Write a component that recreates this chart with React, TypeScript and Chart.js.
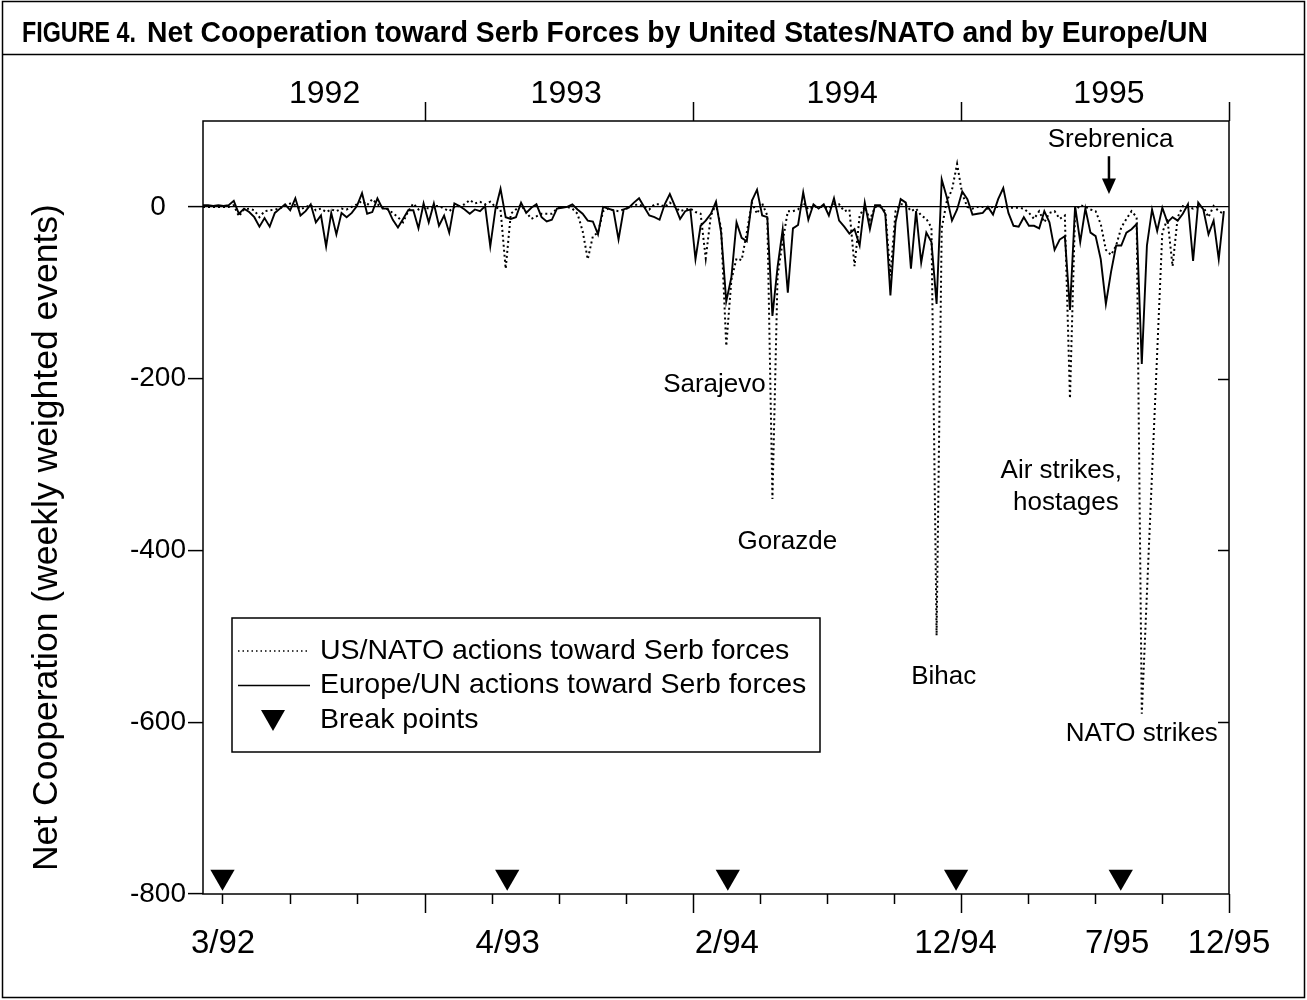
import React, { useEffect, useRef } from "react";
import { Chart, registerables } from "chart.js";

Chart.register(...registerables);

const FONT = "'Liberation Sans', Arial, Helvetica, sans-serif";

// Weekly values, week 0 = first week of March 1992
const europeUN = [
  2, 2, 1, 2, 1, 2, 7, -8, -2, -6,
  -12, -23, -13, -23, -7, -2, 3, -4, 10, -10,
  -5, 3, -18, -10, -46, -7, -32, -7, -12, -7,
  1, 16, -8, -6, 10, -2, -2, -15, -24, -14,
  -4, -4, -25, 4, -18, 4, -22, -10, -30, 4,
  1, -3, -8, -3, -5, 1, -46, -3, 21, -12,
  -14, -12, 5, -7, -1, 3, -12, -17, -15, -2,
  -1, 0, 3, -3, -8, -16, -17, -32, 0, -2,
  -4, -38, -3, -1, 5, 10, 0, -10, -12, -15,
  3, 15, 1, -14, -5, -3, -61, -22, -16, -8,
  6, -30, -110, -82, -18, -36, -40, 7, 20, -10,
  -12, -127, -70, -26, -100, -25, -21, 17, -15, 3,
  -2, 3, -10, 10, -16, -23, -31, -26, -45, 5,
  -26, 2, 2, -8, -103, -18, 9, 5, -72, -5,
  -65, -30, -41, -113, 32, 11, -16, -3, 18, 9,
  -9, -8, -7, 0, -9, 9, 22, -7, -22, -23,
  -12, -22, -22, -25, -5, -18, -50, -38, -34, -120,
  1, -41, -2, -30, -34, -61, -113, -76, -45, -45,
  -30, -26, -20, -183, -45, -3, -28, -1, -18, -12,
  -16, -8, 3, -63, 5, -3, -32, -16, -61, -5,
];

const usNATO: (number | null)[] = [
  0, 0, 0, 0, 0, 0, 2, -11, -3, -2,
  -4, -12, -5, -4, -3, -2, 2, 4, 2, -3,
  0, 2, -4, -2, -6, -3, -5, -2, -3, 0,
  3, 7, 2, 9, 3, 0, -3, -7, -12, -18,
  -5, 4, -3, 0, -2, 1, 1, -2, -5, 0,
  1, 3, 8, 4, 6, 3, 6, 0, -3, -72,
  -8, -3, 2, -6, -14, -11, -8, -8, -8, -2,
  0, 0, -2, -8, -28, -61, -34, -30, -5, -2,
  -4, -5, -3, -1, 2, 3, 0, -3, 3, 3,
  0, 5, 0, -5, -3, -2, -6, -8, -60, -10,
  3, -25, -162, -85, -60, -62, -30, 5, -8, 4,
  -10, -340, -80, -40, -5, -5, -3, 5, -3, 0,
  0, 0, -2, 3, 3, -5, -3, -69, -10, 0,
  -15, 0, 0, -5, -80, -5, 3, 3, -5, -2,
  -10, -14, -24, -499, -25, 7, 20, 50, 15, 0,
  -2, 0, 0, -2, 0, 0, 0, -1, -1, -1,
  -2, -7, -14, -5, -18, -7, -5, -14, -10, -223,
  -5, 2, 0, -3, -5, -20, -50, -56, -45, -24,
  -14, -5, -12, -590, null, null, null, -30, -14, -69,
  -12, 1, 0, -2, 0, 0, -12, 1, -5, -8,
];

const breakPointWeeks = [3.8, 59.3, 102.3, 146.8, 178.9];
const breakPointLevel = -780;

const bottomLabelWeeks = [3.9, 59.4, 102.1, 146.7, 178.2, 200];
const bottomLabels = ["3/92", "4/93", "2/94", "12/94", "7/95", "12/95"];

const yearLabelWeeks = [23.7, 70.8, 124.6, 176.6];
const yearLabels = ["1992", "1993", "1994", "1995"];

const yearBoundaryWeeks = [43.3, 95.5, 147.8, 200];
const quarterTickWeeks = [3.8, 17.0, 30.1, 56.3, 69.4, 82.4, 108.6, 121.6, 134.7, 160.9, 173.9, 187.0];

const yTickValues = [-800, -600, -400, -200, 0];
const rightTickValues = [-600, -400, -200];

const yAxisTitle = "Net Cooperation (weekly weighted events)";
const yAxisTitleValue = -385; // vertical centre of the axis title, in data units

const annotations = [
  { text: "Sarajevo", week: 99.7, value: -207 },
  { text: "Gorazde", week: 113.9, value: -390 },
  { text: "Bihac", week: 144.4, value: -547 },
  { text: "Air strikes,", week: 167.3, value: -307 },
  { text: "hostages", week: 168.2, value: -345 },
  { text: "NATO strikes", week: 183.0, value: -613 },
  { text: "Srebrenica", week: 176.9, value: 78 },
];

const arrowWeek = 176.6;
const arrowTop = 59;
const arrowHeadBase = 33;
const arrowTip = 15;

const legendItems = [
  { kind: "dotted", text: "US/NATO actions toward Serb forces" },
  { kind: "solid", text: "Europe/UN actions toward Serb forces" },
  { kind: "triangle", text: "Break points" },
];

const titleLead = "FIGURE 4.";
const titleText = "Net Cooperation toward Serb Forces by United States/NATO and by Europe/UN";

const decorPlugin = {
  id: "decor",
  afterDraw(chart: any) {
    const ctx = chart.ctx as CanvasRenderingContext2D;
    const { left, right, top, bottom } = chart.chartArea;
    const xs = chart.scales.x;
    const ys = chart.scales.y;
    const line = (x1: number, y1: number, x2: number, y2: number) => {
      ctx.beginPath();
      ctx.moveTo(x1, y1);
      ctx.lineTo(x2, y2);
      ctx.stroke();
    };
    ctx.save();
    ctx.strokeStyle = "#000";
    ctx.fillStyle = "#000";
    ctx.lineWidth = 1.5;
    ctx.setLineDash([]);

    // plot frame
    ctx.strokeRect(left, top, right - left, bottom - top);

    // bottom ticks
    quarterTickWeeks.forEach((w) => {
      const px = Math.round(xs.getPixelForValue(w)) + 0.5;
      line(px, bottom, px, bottom + 10);
    });
    yearBoundaryWeeks.forEach((w) => {
      const px = Math.round(xs.getPixelForValue(w)) + 0.5;
      line(px, bottom, px, bottom + 19);
      line(px, top, px, top - 19);
    });
    // right inward ticks
    rightTickValues.forEach((v) => {
      const py = Math.round(ys.getPixelForValue(v)) + 0.5;
      line(right, py, right - 11, py);
    });

    // y axis title
    ctx.save();
    ctx.font = `35.5px ${FONT}`;
    ctx.textAlign = "center";
    ctx.textBaseline = "middle";
    ctx.translate(47, ys.getPixelForValue(yAxisTitleValue));
    ctx.rotate(-Math.PI / 2);
    ctx.fillText(yAxisTitle, 0, 0);
    ctx.restore();

    // annotations
    ctx.font = `26px ${FONT}`;
    ctx.textAlign = "center";
    ctx.textBaseline = "middle";
    annotations.forEach((a) => {
      ctx.fillText(a.text, xs.getPixelForValue(a.week), ys.getPixelForValue(a.value));
    });

    // Srebrenica arrow
    const ax = xs.getPixelForValue(arrowWeek);
    ctx.lineWidth = 2.5;
    line(ax, ys.getPixelForValue(arrowTop), ax, ys.getPixelForValue(arrowHeadBase) + 2);
    ctx.beginPath();
    ctx.moveTo(ax - 7, ys.getPixelForValue(arrowHeadBase));
    ctx.lineTo(ax + 7, ys.getPixelForValue(arrowHeadBase));
    ctx.lineTo(ax, ys.getPixelForValue(arrowTip));
    ctx.closePath();
    ctx.fill();

    // legend
    const lx = left + 29;
    const ly = top + 497;
    ctx.lineWidth = 1.5;
    ctx.strokeRect(lx, ly, 588, 134);
    ctx.font = `28.5px ${FONT}`;
    ctx.textAlign = "left";
    ctx.textBaseline = "middle";
    legendItems.forEach((it, i) => {
      const cy = ly + 33 + i * 34.5;
      if (it.kind === "dotted") {
        ctx.lineWidth = 1.5;
        ctx.setLineDash([1.5, 3]);
        line(lx + 6, cy, lx + 78, cy);
        ctx.setLineDash([]);
      } else if (it.kind === "solid") {
        ctx.lineWidth = 1.5;
        line(lx + 6, cy, lx + 78, cy);
      } else {
        const cx = lx + 41;
        ctx.beginPath();
        ctx.moveTo(cx - 12, cy - 10);
        ctx.lineTo(cx + 12, cy - 10);
        ctx.lineTo(cx, cy + 11);
        ctx.closePath();
        ctx.fill();
      }
      ctx.fillText(it.text, lx + 88, cy);
    });

    // figure title
    ctx.font = `bold 29px ${FONT}`;
    ctx.textAlign = "left";
    ctx.textBaseline = "alphabetic";
    const drawFit = (text: string, x: number, y: number, w: number) => {
      const m = ctx.measureText(text).width;
      ctx.save();
      ctx.translate(x, y);
      ctx.scale(w / m, 1);
      ctx.fillText(text, 0, 0);
      ctx.restore();
    };
    drawFit(titleLead, 22, 42, 114);
    drawFit(titleText, 147, 42, 1061);

    // title rule and figure frame
    ctx.lineWidth = 1.5;
    line(3, 54.5, 1305, 54.5);
    ctx.strokeRect(2.5, 1.5, 1302, 996);
    ctx.restore();
  },
};

export default function App() {
  const ref = useRef<HTMLCanvasElement | null>(null);
  useEffect(() => {
    if (!ref.current) return;
    const pts = (arr: (number | null)[]) => arr.map((v, i) => ({ x: i, y: v }));
    const chart = new Chart(ref.current, {
      type: "line",
      data: {
        datasets: [
          {
            label: "Europe/UN actions toward Serb forces",
            data: pts(europeUN) as any,
            borderColor: "#000",
            borderWidth: 1.9,
            pointRadius: 0,
            fill: false,
            tension: 0,
            xAxisID: "x",
            yAxisID: "y",
          },
          {
            label: "US/NATO actions toward Serb forces",
            data: pts(usNATO) as any,
            borderColor: "#000",
            borderWidth: 2,
            borderDash: [2, 3],
            pointRadius: 0,
            fill: false,
            tension: 0,
            spanGaps: true,
            xAxisID: "x",
            yAxisID: "y",
          },
          {
            type: "scatter",
            label: "Break points",
            data: breakPointWeeks.map((w) => ({ x: w, y: breakPointLevel })),
            pointStyle: "triangle",
            rotation: 180,
            pointRadius: 14,
            backgroundColor: "#000",
            borderColor: "#000",
            borderWidth: 0,
            showLine: false,
            xAxisID: "x",
            yAxisID: "y",
          } as any,
        ],
      },
      options: {
        responsive: false,
        animation: false,
        devicePixelRatio: 1,
        events: [],
        layout: { padding: { left: 22, right: 78, top: 0, bottom: 0 } },
        plugins: {
          legend: { display: false },
          tooltip: { enabled: false },
          title: { display: false },
        },
        scales: {
          x: {
            type: "linear",
            position: "bottom",
            min: 0,
            max: 200,
            afterBuildTicks: (s: any) => {
              s.ticks = bottomLabelWeeks.map((v) => ({ value: v }));
            },
            afterFit: (s: any) => {
              s.height = 106;
            },
            grid: { display: false, drawTicks: false },
            border: { display: false },
            ticks: {
              autoSkip: false,
              maxRotation: 0,
              minRotation: 0,
              padding: 30,
              color: "#000",
              font: { family: FONT, size: 33 },
              callback: (_v: any, i: number) => bottomLabels[i],
            },
          },
          xTop: {
            type: "linear",
            position: "top",
            min: 0,
            max: 200,
            afterBuildTicks: (s: any) => {
              s.ticks = yearLabelWeeks.map((v) => ({ value: v }));
            },
            afterFit: (s: any) => {
              s.height = 121;
            },
            grid: { display: false, drawTicks: false },
            border: { display: false },
            ticks: {
              autoSkip: false,
              maxRotation: 0,
              minRotation: 0,
              padding: 8,
              color: "#000",
              font: { family: FONT, size: 32 },
              callback: (_v: any, i: number) => yearLabels[i],
            },
          },
          y: {
            type: "linear",
            position: "left",
            min: -800,
            max: 100,
            afterBuildTicks: (s: any) => {
              s.ticks = yTickValues.map((v) => ({ value: v }));
            },
            afterFit: (s: any) => {
              s.width = 181;
            },
            grid: {
              drawOnChartArea: true,
              drawTicks: true,
              tickLength: 15,
              tickColor: "#000",
              tickWidth: 1.5,
              lineWidth: 1.2,
              color: (c: any) => (c.tick && c.tick.value === 0 ? "#000" : "rgba(0,0,0,0)"),
            },
            border: { display: false },
            ticks: {
              crossAlign: "center",
              padding: 2,
              color: "#000",
              font: { family: FONT, size: 28 },
            },
            title: { display: false },
          },
        },
      } as any,
      plugins: [decorPlugin],
    });
    return () => chart.destroy();
  }, []);
  return (
    <div style={{ position: "absolute", left: 0, top: 0, width: 1307, height: 1000, background: "#fff" }}>
      <canvas ref={ref} width={1307} height={1000} />
    </div>
  );
}
